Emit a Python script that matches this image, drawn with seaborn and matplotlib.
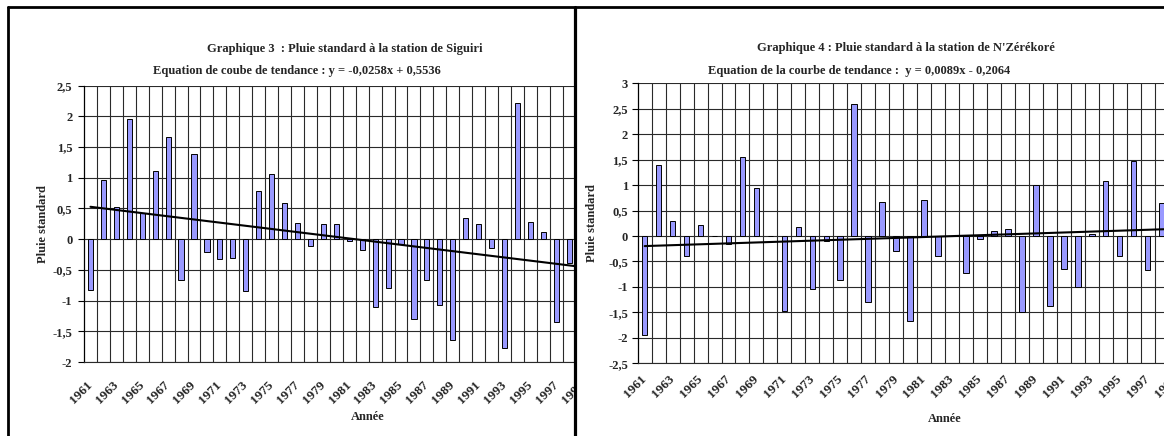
import matplotlib
matplotlib.use("Agg")
import matplotlib.pyplot as plt
import seaborn as sns
import pandas as pd
import numpy as np
from matplotlib.lines import Line2D
from matplotlib.transforms import Bbox, TransformedBbox, offset_copy

# ---------------- data ----------------
years = list(range(1961, 1999))
extra_label = "1999"

siguiri = [-0.82, 0.97, 0.52, 1.95, 0.42, 1.11, 1.66, -0.67, 1.38, -0.21,
           -0.32, -0.30, -0.85, 0.79, 1.07, 0.59, 0.26, -0.11, 0.24, 0.24,
           -0.03, -0.18, -1.10, -0.79, -0.08, -1.30, -0.66, -1.07, -1.64, 0.34,
           0.245, -0.14, -1.77, 2.22, 0.28, 0.11, -1.35, -0.38]
siguiri_trend = (-0.0258, 0.5536)

nzerekore = [-1.94, 1.39, 0.29, -0.39, 0.22, 0.0, -0.16, 1.55, 0.95, 0.0,
             -1.47, 0.17, -1.04, -0.10, -0.86, 2.59, -1.29, 0.67, -0.29, -1.66,
             0.71, -0.39, 0.0, -0.73, -0.065, 0.10, 0.13, -1.49, 1.00, -1.37,
             -0.64, -1.00, 0.03, 1.09, -0.39, 1.47, -0.66, 0.64]
nzerekore_trend = (0.0089, -0.2064)

yticks_left = [-2, -1.5, -1, -0.5, 0, 0.5, 1, 1.5, 2, 2.5]
yticks_right = [-2.5, -2, -1.5, -1, -0.5, 0, 0.5, 1, 1.5, 2, 2.5, 3]

title_left = "Graphique 3  : Pluie standard à la station de Siguiri"
sub_left = "Equation de coube de tendance : y = -0,0258x + 0,5536"
title_right = "Graphique 4 : Pluie standard à la station de N'Zérékoré"
sub_right = "Equation de la courbe de tendance :  y = 0,0089x - 0,2064"
ylabel = "Pluie standard"
xlabel = "Année"

# ---------------- style ----------------
sns.set_theme(style="white")
plt.rcParams["font.family"] = ["Liberation Serif", "DejaVu Serif"]
plt.rcParams["font.weight"] = "bold"
FS = 9
FSX = 9.5
BAR = "#9999FF"
GRID = "#2a2a2a"

W, H = 1164, 436
fig = plt.figure(figsize=(W / 100, H / 100), dpi=100)
fig.patch.set_facecolor("white")


def fmt(v):
    return ("%g" % v).replace(".", ",")


def panel(rect, values, trend, yticks, xmax, ypad, xpad, clip_x=None):
    ax = fig.add_axes(rect)
    df = pd.DataFrame({"year": [str(y) for y in years], "val": values})
    sns.barplot(data=df, x="year", y="val", color=BAR, saturation=1,
                edgecolor="black", linewidth=0.7, width=0.4, ax=ax, zorder=3)
    n = len(years)
    slope, icpt = trend
    xs = np.arange(1, n + 2)
    ax.plot(xs - 1, slope * xs + icpt, color="black", lw=1.5, zorder=4)

    ax.set_yticks(yticks)
    ax.set_yticklabels([fmt(v) for v in yticks], fontsize=FS, fontweight="bold")
    ax.set_xticks(range(0, n, 2))
    ax.set_xticklabels([str(y) for y in years[::2]], rotation=45, ha="right",
                       va="center", rotation_mode="anchor", fontsize=FSX,
                       fontweight="bold")
    ax.set_xticks(np.arange(0.5, n + 1, 1), minor=True)
    ax.set_xlim(-0.5, xmax)
    ax.set_ylim(yticks[0], yticks[-1])
    ax.set_axisbelow(True)
    ax.grid(True, which="major", axis="y", color=GRID, lw=0.8)
    ax.grid(True, which="minor", axis="x", color=GRID, lw=0.8)
    ax.tick_params(axis="x", which="both", length=0, pad=xpad)
    ax.tick_params(axis="y", length=4, width=0.8, direction="out", pad=ypad,
                   color="black", left=True)
    for s in ["top", "right"]:
        ax.spines[s].set_visible(False)
    ax.spines["left"].set_color("black")
    ax.spines["left"].set_linewidth(0.9)
    ax.spines["bottom"].set_color(GRID)
    ax.spines["bottom"].set_linewidth(0.8)
    ax.set_xlabel("")
    ax.set_ylabel("")

    # label of the next (cropped) category
    tr = offset_copy(ax.get_xaxis_transform(), fig=fig, x=0, y=-xpad,
                     units="points")
    t = ax.text(n, 0, extra_label, transform=tr, rotation=45, ha="right",
                va="center", rotation_mode="anchor", fontsize=FSX,
                fontweight="bold")
    if clip_x is not None:
        t.set_clip_on(True)
        t.set_clip_box(TransformedBbox(Bbox([[0, 0], [clip_x / W, 1]]),
                                       fig.transFigure))
    return ax


def px(x, y):
    return x / W, 1 - y / H


# left panel
axL = panel([84 / W, 1 - 362 / H, 490 / W, 276.3 / H], siguiri, siguiri_trend,
            yticks_left, -0.5 + 490 / 12.94, ypad=4.3, xpad=15, clip_x=574)
# right panel
axR = panel([637.7 / W, 1 - 363.3 / H, (W - 637.7) / W, 280 / H], nzerekore,
            nzerekore_trend, yticks_right, -0.5 + (W - 637.7) / 13.97,
            ypad=2.9, xpad=10)

# titles
fig.text(*px(207, 49), title_left, ha="left", va="center", fontsize=FS, fontweight="bold")
fig.text(*px(153, 71), sub_left, ha="left", va="center", fontsize=FS, fontweight="bold")
fig.text(*px(757, 48), title_right, ha="left", va="center", fontsize=FS, fontweight="bold")
fig.text(*px(708, 71), sub_right, ha="left", va="center", fontsize=FS, fontweight="bold")

# axis titles
fig.text(*px(43, 224), ylabel, rotation=90, ha="center", va="center", fontsize=FS, fontweight="bold")
fig.text(*px(592, 223), ylabel, rotation=90, ha="center", va="center", fontsize=FS, fontweight="bold")
fig.text(*px(368, 417), xlabel, ha="center", va="center", fontsize=FS, fontweight="bold")
fig.text(*px(945, 419), xlabel, ha="center", va="center", fontsize=FS, fontweight="bold")

# panel frames
fig.add_artist(Line2D([8 / W, 1], [1 - 7 / H] * 2, transform=fig.transFigure, color="black", lw=2))
fig.add_artist(Line2D([8 / W] * 2, [0, 1 - 7 / H], transform=fig.transFigure, color="black", lw=2))
fig.add_artist(Line2D([574.8 / W] * 2, [0, 1 - 7 / H], transform=fig.transFigure, color="black", lw=2.3))

fig.savefig("out.png", dpi=100)
